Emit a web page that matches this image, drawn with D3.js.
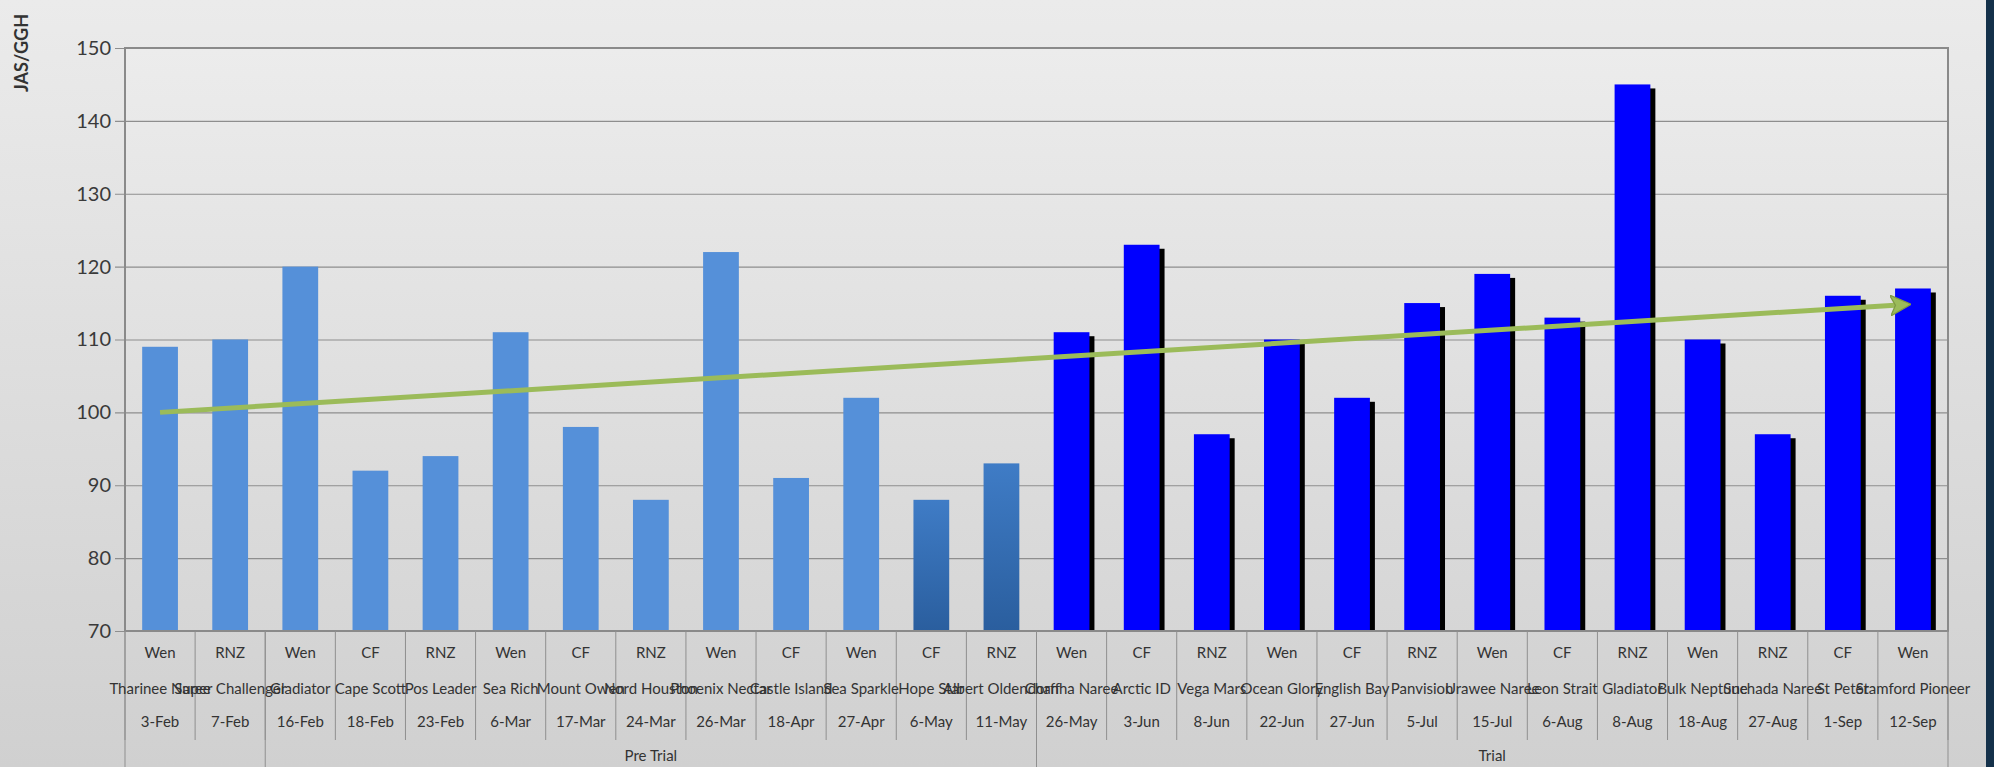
<!DOCTYPE html>
<html><head><meta charset="utf-8">
<script src="https://cdn.jsdelivr.net/npm/d3@7/dist/d3.min.js"></script>
<style>html,body{margin:0;padding:0;background:#dcdcdc;overflow:hidden}svg{display:block}</style>
</head><body>
<script>
const companies = ["Wen","RNZ","Wen","CF","RNZ","Wen","CF","RNZ","Wen","CF","Wen","CF","RNZ","Wen","CF","RNZ","Wen","CF","RNZ","Wen","CF","RNZ","Wen","RNZ","CF","Wen"];
const vessels = ["Tharinee Naree","Super Challenger","Gladiator","Cape Scott","Pos Leader","Sea Rich","Mount Owen","Nord Houston","Phoenix Nectar","Castle Island","Sea Sparkle","Hope Star","Albert Oldendorff","Chanha Naree","Arctic ID","Vega Mars","Ocean Glory","English Bay","Panvision","Urawee Naree","Leon Strait","Gladiator","Bulk Neptune","Suchada Naree","St Peter","Stamford Pioneer"];
const dates = ["3-Feb","7-Feb","16-Feb","18-Feb","23-Feb","6-Mar","17-Mar","24-Mar","26-Mar","18-Apr","27-Apr","6-May","11-May","26-May","3-Jun","8-Jun","22-Jun","27-Jun","5-Jul","15-Jul","6-Aug","8-Aug","18-Aug","27-Aug","1-Sep","12-Sep"];
const values = [109,110,120,92,94,111,98,88,122,91,102,88,93,111,123,97,110,102,115,119,113,145,110,97,116,117];
const phase = ["pre","pre","pre","pre","pre","pre","pre","pre","pre","pre","pre","preDark","preDark","trial","trial","trial","trial","trial","trial","trial","trial","trial","trial","trial","trial","trial"];
const groupLabels = ["","Pre Trial","Trial"];
const groupSizes = [2,11,13];
const yTicks = [70,80,90,100,110,120,130,140,150];
const trendCats = [0,25];
const trendValues = [100,114.8];
const yTitle = "JAS/GGH";

const W = 1994, H = 767;
const L = 125, R = 1948, T = 48, B = 631;
const svg = d3.select("body").append("svg").attr("width",W).attr("height",H);
const defs = svg.append("defs");
const bg = defs.append("linearGradient").attr("id","bg").attr("x1",0).attr("x2",0).attr("y1",0).attr("y2",1);
bg.append("stop").attr("offset","0").attr("stop-color","#ebebeb");
bg.append("stop").attr("offset","1").attr("stop-color","#d0d0d0");
const pg = defs.append("linearGradient").attr("id","pg").attr("x1",0).attr("x2",0).attr("y1",0).attr("y2",1);
pg.append("stop").attr("offset","0").attr("stop-color","#ececec");
pg.append("stop").attr("offset","1").attr("stop-color","#d6d6d6");
const dg = defs.append("linearGradient").attr("id","dg").attr("x1",0).attr("x2",0).attr("y1",0).attr("y2",1);
dg.append("stop").attr("offset","0").attr("stop-color","#3f7cc6");
dg.append("stop").attr("offset","1").attr("stop-color","#2a5e9e");

svg.append("rect").attr("width",W).attr("height",H).attr("fill","url(#bg)");
svg.append("rect").attr("x",1986).attr("y",0).attr("width",8).attr("height",H).attr("fill","#14314a");
svg.append("rect").attr("x",L).attr("y",T).attr("width",R-L).attr("height",B-T).attr("fill","url(#pg)");

const idx = d3.range(values.length);
const cell = d3.scaleBand().domain(idx).range([L,R]).padding(0);
const xb = d3.scaleBand().domain(idx).range([L,R]).paddingInner(0.49).paddingOuter(0.245);
const y = d3.scaleLinear().domain([70,150]).range([B,T]);

// gridlines + y axis
const yAxis = d3.axisLeft(y).tickValues(yTicks).tickSize(-(R-L)).tickPadding(14).tickFormat(d3.format("d"));
const ga = svg.append("g").attr("transform",`translate(${L},0)`).call(yAxis);
ga.select(".domain").remove();
ga.selectAll(".tick line").attr("stroke","#8e8e8e").attr("stroke-width",1.2).attr("x1",-10);
ga.selectAll(".tick text").attr("font-family","Lato, 'Open Sans', sans-serif").attr("font-size",20).attr("fill","#3a3a3a");

// plot border
svg.append("rect").attr("x",L).attr("y",T).attr("width",R-L).attr("height",B-T).attr("fill","none").attr("stroke","#8a8a8a").attr("stroke-width",2);

// bars
const colorFor = p => p==="pre" ? "#5590d9" : p==="preDark" ? "url(#dg)" : "#0000ff";
svg.append("g").selectAll("rect.shadow").data(idx.filter(i=>phase[i]==="trial")).join("rect")
  .attr("x",i=>xb(i)+5).attr("y",i=>y(values[i])+4).attr("width",xb.bandwidth()).attr("height",i=>B-y(values[i])-4)
  .attr("fill","#000");
svg.append("g").selectAll("rect.bar").data(idx).join("rect")
  .attr("x",i=>xb(i)).attr("y",i=>y(values[i])).attr("width",xb.bandwidth()).attr("height",i=>B-y(values[i]))
  .attr("fill",i=>colorFor(phase[i]));

// axis line at bottom
svg.append("line").attr("x1",L).attr("x2",R).attr("y1",B).attr("y2",B).attr("stroke","#8a8a8a").attr("stroke-width",2);

// trend arrow
defs.append("marker").attr("id","arr").attr("viewBox","0 0 10 10").attr("refX",8).attr("refY",5)
  .attr("markerWidth",4.2).attr("markerHeight",4.2).attr("orient","auto").attr("markerUnits","strokeWidth")
  .append("path").attr("d","M0,0 L10,5 L0,10 L2.5,5 Z").attr("fill","#9bbb59").attr("stroke","#7f9a44").attr("stroke-width",0.6);
const tx = i => cell(i)+cell.bandwidth()/2;
svg.append("line")
  .attr("x1",tx(trendCats[0])).attr("y1",y(trendValues[0]))
  .attr("x2",tx(trendCats[1])-6).attr("y2",y(trendValues[1]))
  .attr("stroke","#9bbb59").attr("stroke-width",5).attr("stroke-linecap","butt").attr("marker-end","url(#arr)");

// category separators
const sepG = svg.append("g").attr("stroke","#8f8f8f").attr("stroke-width",1);
const bounds = d3.range(values.length+1);
sepG.selectAll("line").data(bounds).join("line")
  .attr("x1",i=> i<values.length ? cell(i) : R).attr("x2",i=> i<values.length ? cell(i) : R)
  .attr("y1",B).attr("y2",740);
// group separators
let acc = 0; const gb = [0];
groupSizes.forEach(s=>{acc+=s; gb.push(acc);});
const gx = i => i<values.length ? cell(i) : R;
svg.append("g").selectAll("line").data(gb).join("line")
  .attr("x1",gx).attr("x2",gx).attr("y1",B).attr("y2",H).attr("stroke","#8f8f8f").attr("stroke-width",1);

const font = "Lato, 'Open Sans', sans-serif";
const cx = i => cell(i)+cell.bandwidth()/2;
function row(arr, yy, size){
  svg.append("g").selectAll("text").data(arr).join("text")
    .attr("x",(d,i)=>cx(i)).attr("y",yy).attr("text-anchor","middle").attr("dominant-baseline","central")
    .attr("font-family",font).attr("font-size",size).attr("fill","#333").text(d=>d);
}
row(companies,652,15);
row(vessels,688,15);
row(dates,721,15);
svg.append("g").selectAll("text").data(groupLabels).join("text")
  .attr("x",(d,i)=>(gx(gb[i])+gx(gb[i+1]))/2).attr("y",755).attr("text-anchor","middle").attr("dominant-baseline","central")
  .attr("font-family",font).attr("font-size",15).attr("fill","#333").text(d=>d);

// y title
svg.append("text").attr("transform","translate(21,53) rotate(-90)").attr("text-anchor","middle").attr("dominant-baseline","central")
  .attr("font-family",font).attr("font-weight","bold").attr("font-size",18).attr("fill","#333").text(yTitle);
</script>
</body></html>
